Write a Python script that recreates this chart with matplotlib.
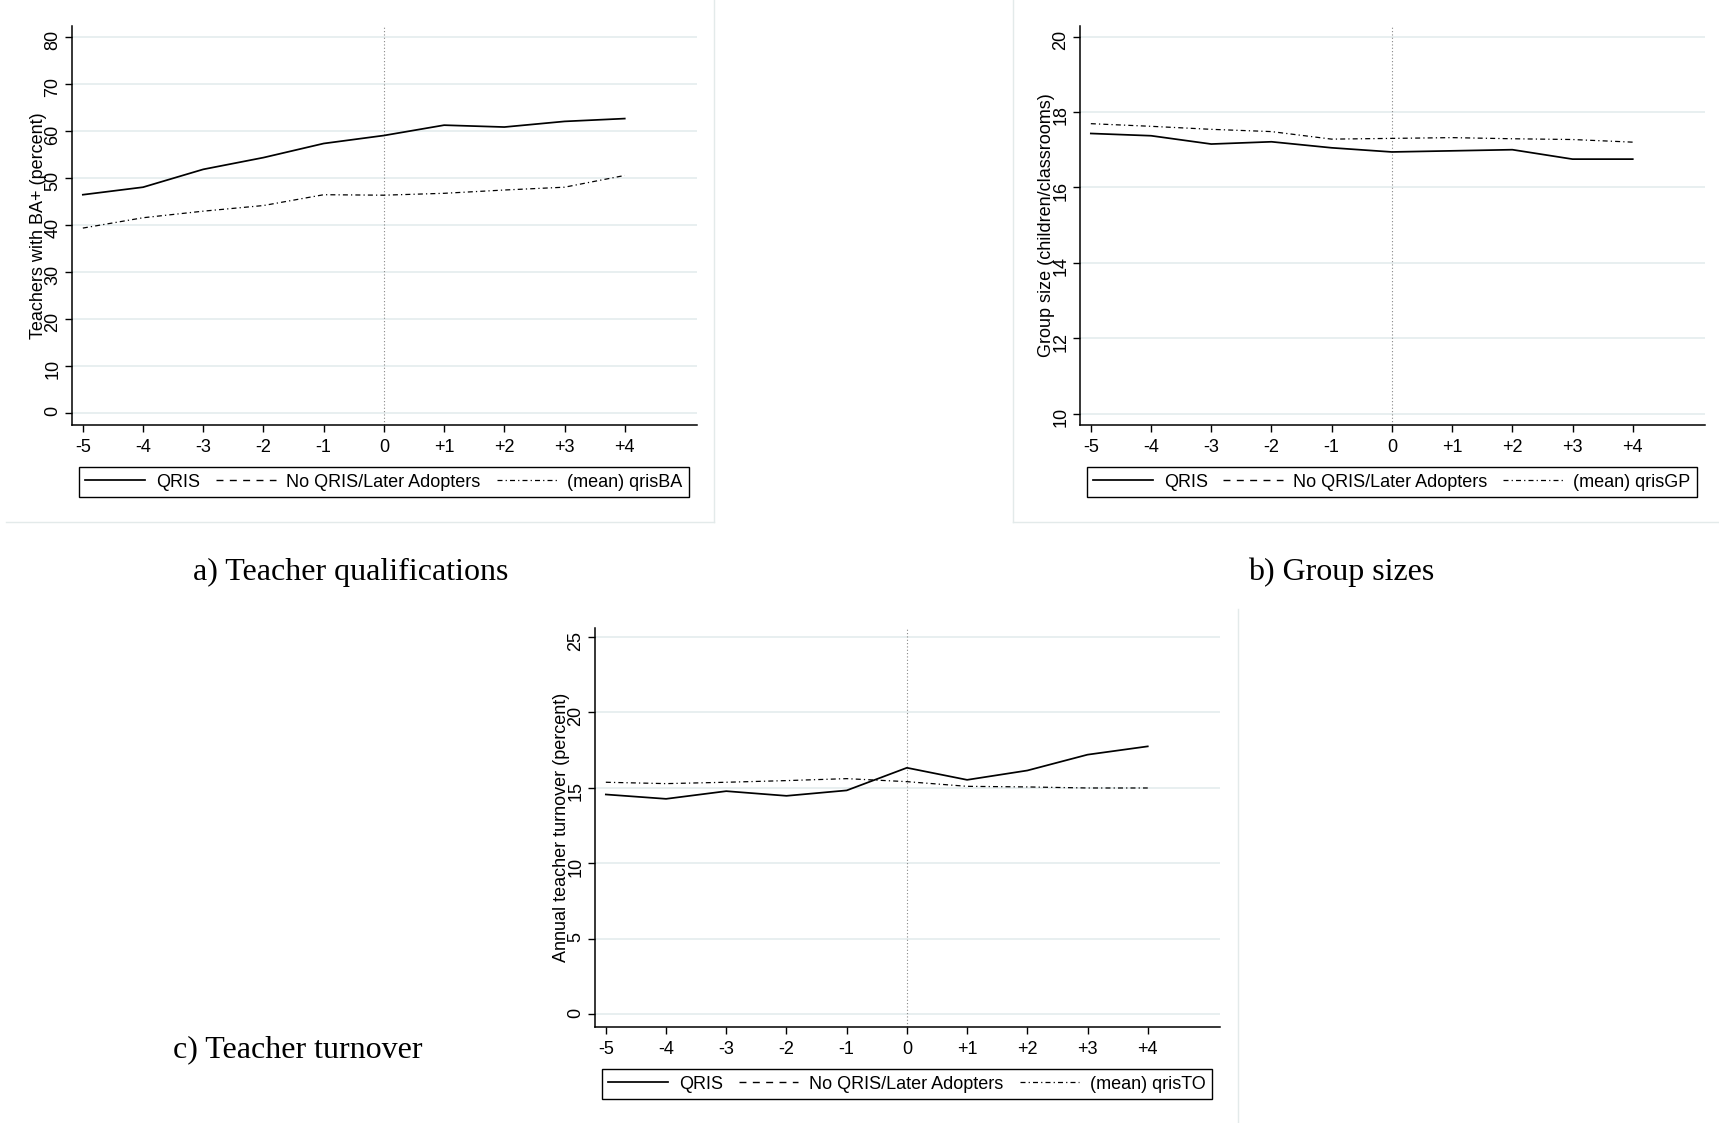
import matplotlib.pyplot as plt
from matplotlib.lines import Line2D

plt.rcParams['font.family'] = ['Liberation Sans', 'DejaVu Sans']

# event time relative to QRIS adoption
years = [-5, -4, -3, -2, -1, 0, 1, 2, 3, 4]
year_labels = ['-5', '-4', '-3', '-2', '-1', '0', '+1', '+2', '+3', '+4']

# a) teachers with BA+ (percent)
ba_qris = [46.4, 48.0, 51.8, 54.3, 57.3, 59.0, 61.2, 60.8, 62.0, 62.6]
ba_mean = [39.3, 41.5, 42.9, 44.1, 46.4, 46.3, 46.7, 47.4, 48.0, 50.5]
ba_noqris = []

# b) group size (children/classrooms)
gp_qris = [17.43, 17.37, 17.15, 17.21, 17.05, 16.94, 16.97, 17.00, 16.75, 16.75]
gp_mean = [17.69, 17.62, 17.54, 17.48, 17.28, 17.30, 17.32, 17.29, 17.27, 17.20]
gp_noqris = []

# c) annual teacher turnover (percent)
to_qris = [14.56, 14.27, 14.78, 14.47, 14.83, 16.33, 15.53, 16.15, 17.20, 17.75]
to_mean = [15.37, 15.28, 15.37, 15.48, 15.61, 15.41, 15.10, 15.06, 14.99, 14.99]
to_noqris = []

W, H = 1719, 1123
fig = plt.figure(figsize=(W / 100, H / 100), dpi=100)
grid_col = '#e6eeef'


def panel(rect, qris, noqris, mean, mean_name, ylabel, yticks, ylim):
    ax = fig.add_axes(rect)
    ax.plot(years, qris, color='black', lw=1.25, label='QRIS')
    ax.plot(years[:len(noqris)], noqris, color='black', lw=1.0,
            dashes=(5, 4.6), label='No QRIS/Later Adopters')
    ax.plot(years, mean, color='black', lw=0.9, dashes=(4, 2.5, 1, 2.5),
            label=mean_name)
    ax.axvline(0, color='#888888', lw=0.8, ls=(0, (1, 2)), zorder=1)
    ax.set_xlim(-5.18, 5.2)
    ax.set_ylim(*ylim)
    ax.set_xticks(years)
    ax.set_xticklabels(year_labels)
    ax.set_yticks(yticks)
    ax.grid(axis='y', color=grid_col, lw=1.3)
    ax.set_axisbelow(True)
    for s in ['top', 'right']:
        ax.spines[s].set_visible(False)
    for s in ['left', 'bottom']:
        ax.spines[s].set_linewidth(1.1)
    ax.tick_params(length=5, width=1.0, pad=5, labelsize=13)
    ax.tick_params(axis='y', labelrotation=90, pad=2.5)
    ax.set_ylabel(ylabel, fontsize=13, va='center')
    ax.yaxis.set_label_coords(-0.053, 0.5)
    ax.legend(loc='lower left', bbox_to_anchor=(0.0112, -0.1805, 0.976, 0.0802),
              mode='expand', ncol=3, borderaxespad=0, fontsize=13,
              fancybox=False, framealpha=1, edgecolor='black',
              handlelength=3.3, handletextpad=0.6, borderpad=0.35)
    ax.get_legend().get_frame().set_linewidth(1.0)
    return ax


pw, ph = 625 / W, 399 / H
panel([72 / W, 1 - 425 / H, pw, ph], ba_qris, ba_noqris, ba_mean, '(mean) qrisBA',
      'Teachers with BA+ (percent)', range(0, 81, 10), (-2.6, 82.3))
panel([1080 / W, 1 - 425 / H, pw, ph], gp_qris, gp_noqris, gp_mean, '(mean) qrisGP',
      'Group size (children/classrooms)', range(10, 21, 2), (9.70, 20.28))
panel([595 / W, 1 - 1027 / H, pw, ph], to_qris, to_noqris, to_mean, '(mean) qrisTO',
      'Annual teacher turnover (percent)', range(0, 26, 5), (-0.86, 25.6))

# faint panel frames
frame = dict(color='#e3eaea', lw=1.0, transform=fig.transFigure)
fig.add_artist(Line2D([714 / W, 714 / W], [1, 1 - 522 / H], **frame))
fig.add_artist(Line2D([6 / W, 714 / W], [1 - 522 / H, 1 - 522 / H], **frame))
fig.add_artist(Line2D([1013 / W, 1013 / W], [1, 1 - 522 / H], **frame))
fig.add_artist(Line2D([1013 / W, 1], [1 - 522 / H, 1 - 522 / H], **frame))
fig.add_artist(Line2D([1238 / W, 1238 / W], [1 - 609 / H, 0], **frame))

cap = dict(fontsize=23, family='Liberation Serif', ha='center', va='center')
fig.text(351 / W, 1 - 572 / H, 'a) Teacher qualifications', **cap)
fig.text(1341 / W, 1 - 572 / H, 'b) Group sizes', **cap)
fig.text(298 / W, 1 - 1050 / H, 'c) Teacher turnover', **cap)

fig.savefig('out.png', dpi=100)
